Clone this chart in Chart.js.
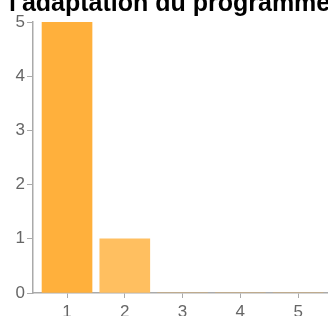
<!DOCTYPE html>
<html lang="fr">
<head>
    <meta charset="UTF-8">
    <title>chart</title>
    <script src="https://cdn.jsdelivr.net/npm/chart.js@4.4.0/dist/chart.umd.min.js"></script>
    <style>
        html, body {
            margin: 0;
            padding: 0;
            background: #fff;
            overflow: hidden;
            width: 328px;
            height: 316px;
        }
        .wrap {
            position: absolute;
            left: 0;
            top: -17px;
            width: 420px;
            height: 340px;
        }
    </style>
</head>
<body>
    <div class="wrap">
        <canvas id="canvas" width="420" height="340"></canvas>
    </div>

<script>
    // data
    var titleText = "l'adaptation du programme";
    var categories = [1, 2, 3, 4, 5];
    var counts = [5, 1, 0, 0, 0];
    var barColors = ['#ffb03c', '#ffbf60', '#ffb03c', '#ffb03c', '#ffb03c'];
    var yTicks = [0, 1, 2, 3, 4, 5];

    var points = categories.map(function (c, i) {
        return { x: c, y: counts[i] };
    });

    var axisGrey = '#aaaaaa';
    var labelGrey = '#666';
    var tickFont = { family: 'Liberation Sans', size: 17 };

    const ctx = document.getElementById('canvas').getContext('2d');
    const myChart = new Chart(ctx, {
        type: 'bar',
        data: {
            datasets: [{
                data: points,
                backgroundColor: barColors,
                borderWidth: 0,
                barThickness: 50
            }]
        },
        options: {
            responsive: false,
            animation: false,
            devicePixelRatio: 1,
            layout: { padding: { left: 9, right: 0, top: 0, bottom: 0 } },
            plugins: {
                legend: { display: false },
                tooltip: { enabled: false },
                title: {
                    display: true,
                    text: titleText,
                    align: 'start',
                    color: '#000',
                    font: { family: 'Liberation Sans', size: 25, weight: 'bold', lineHeight: 1.2 },
                    padding: { top: 6, bottom: 3 }
                }
            },
            scales: {
                x: {
                    type: 'linear',
                    z: 1,
                    min: 0.411,
                    max: 7.11,
                    offset: false,
                    afterBuildTicks: function (scale) {
                        scale.ticks = categories.map(function (c) { return { value: c }; });
                    },
                    afterFit: function (scale) { scale.height = 30; },
                    border: { color: axisGrey, width: 1.5 },
                    grid: {
                        offset: false,
                        drawOnChartArea: false,
                        drawTicks: true,
                        tickLength: 5,
                        color: axisGrey
                    },
                    ticks: {
                        color: labelGrey,
                        font: tickFont,
                        padding: 4,
                        maxRotation: 0
                    }
                },
                y: {
                    min: 0,
                    max: 5,
                    afterBuildTicks: function (scale) {
                        scale.ticks = yTicks.map(function (v) { return { value: v }; });
                    },
                    afterFit: function (scale) { scale.width = 24; },
                    border: { color: axisGrey, width: 1.5 },
                    grid: {
                        drawOnChartArea: false,
                        drawTicks: true,
                        tickLength: 6,
                        color: axisGrey
                    },
                    ticks: {
                        color: labelGrey,
                        font: tickFont,
                        padding: 2
                    }
                }
            }
        }
    });
</script>
</body>
</html>
